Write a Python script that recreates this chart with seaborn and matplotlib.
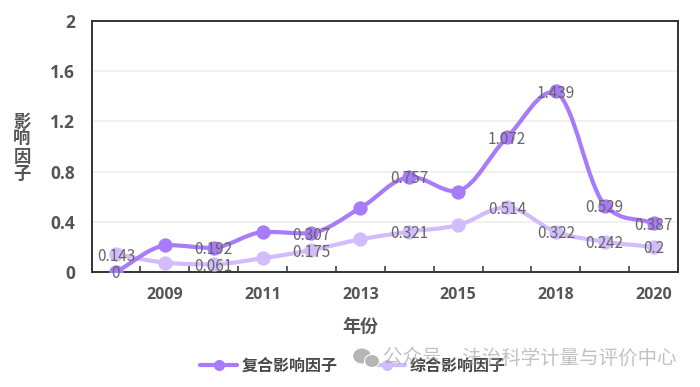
import numpy as np
import seaborn as sns
import matplotlib.pyplot as plt
from matplotlib.lines import Line2D
from matplotlib.patches import Ellipse, PathPatch
from matplotlib.path import Path

years = ["2008", "2009", "2010", "2011", "2012", "2013", "2014", "2015", "2016", "2018", "2019", "2020"]
composite = [0, 0.215, 0.192, 0.32, 0.307, 0.51, 0.757, 0.64, 1.072, 1.439, 0.529, 0.387]
overall = [0.143, 0.075, 0.061, 0.11, 0.175, 0.26, 0.321, 0.375, 0.514, 0.322, 0.242, 0.2]
composite_labels = ["0", "", "0.192", "", "0.307", "", "0.757", "", "1.072", "1.439", "0.529", "0.387"]
overall_labels = ["0.143", "", "0.061", "", "0.175", "", "0.321", "", "0.514", "0.322", "0.242", "0.2"]
year_ticks = ["2009", "2011", "2013", "2015", "2018", "2020"]
y_ticks = [0, 0.4, 0.8, 1.2, 1.6, 2]
y_tick_labels = ["0", "0.4", "0.8", "1.2", "1.6", "2"]

DARK = "#a87bfb"
LIGHT = "#d2bcfc"
TEXT = "#555555"


def smooth_path(y_values):
    # bezier through the points, control points kept inside each segment's y range
    y = np.asarray(y_values, dtype=float)
    slopes = np.gradient(y)
    verts = [(0, y[0])]
    codes = [Path.MOVETO]
    for i in range(len(y) - 1):
        low, high = sorted((y[i], y[i + 1]))
        verts.append((i + 0.4, np.clip(y[i] + 0.4 * slopes[i], low, high)))
        verts.append((i + 0.6, np.clip(y[i + 1] - 0.4 * slopes[i + 1], low, high)))
        verts.append((i + 1, y[i + 1]))
        codes += [Path.CURVE4, Path.CURVE4, Path.CURVE4]
    return Path(verts, codes)


def draw_series(ax, values, labels, color):
    sns.lineplot(x=years, y=values, ax=ax, color=color, linewidth=0, marker="o",
                 markersize=10.3, markeredgewidth=0, zorder=3)
    ax.add_patch(PathPatch(smooth_path(values), fill=False, edgecolor=color, lw=3, capstyle="round", zorder=3))
    for i, label in enumerate(labels):
        ax.text(i, values[i], label, ha="center", va="center_baseline", fontsize=11, color="#666666",
                family=['Noto Sans CJK SC', 'DejaVu Sans'], zorder=5)


if __name__ == '__main__':
    sns.set_theme(style="white")
    plt.rcParams['font.family'] = ['Open Sans', 'Noto Sans CJK SC', 'DejaVu Sans']

    fig = plt.figure(figsize=(7, 3.87), dpi=100)
    ax = fig.add_axes([91.5 / 700, 1 - 272 / 387, 586.5 / 700, 251 / 387])

    draw_series(ax, overall, overall_labels, LIGHT)
    draw_series(ax, composite, composite_labels, DARK)

    ax.set_xlim(-0.5, 11.5)
    ax.set_ylim(0, 2)
    ax.set_yticks(y_ticks)
    ax.set_yticklabels(y_tick_labels, fontsize=12.5, fontweight="bold", color=TEXT)
    ax.set_xticks([years.index(y) for y in year_ticks])
    ax.set_xticklabels(year_ticks, fontsize=11.5, fontweight="bold", color=TEXT)
    ax.set_xticks(np.arange(0.5, 11, 1), minor=True)
    ax.tick_params(axis="x", which="major", length=0, pad=10.5)
    ax.tick_params(axis="x", which="minor", direction="in", length=4, width=1.1, color="#333333", bottom=True)
    ax.tick_params(axis="y", length=0, pad=12)
    ax.grid(axis="y", color="#eeeeee", lw=1.2)
    ax.set_axisbelow(True)
    for spine in ax.spines.values():
        spine.set_color("#333333")
        spine.set_linewidth(1.4)

    fig.text(22 / 700, 1 - 148 / 387, "影\n响\n因\n子", ha="center", va="center", fontsize=12.5,
             fontweight="bold", color=TEXT, linespacing=0.95)
    fig.text(360 / 700, 1 - 327 / 387, "年份", ha="center", va="center", fontsize=13,
             fontweight="bold", color=TEXT)

    handles = [
        Line2D([], [], color=DARK, lw=3, marker="o", markersize=8, markeredgewidth=0),
        Line2D([], [], color=LIGHT, lw=3, marker="o", markersize=8, markeredgewidth=0),
    ]
    fig.legend(handles, ["复合影响因子", "综合影响因子"], ncol=2, loc="center", bbox_to_anchor=(353 / 700, 1 - 366.5 / 387),
               frameon=False, handlelength=2.3, handletextpad=0.3, columnspacing=1.9,
               prop={"size": 11.5, "weight": "bold"}, labelcolor="#484848")

    # watermark in the bottom right corner
    fig.text(383 / 700, 1 - 358 / 387, "公众号", ha="left", va="center", fontsize=14,
             color="#999999", alpha=0.6, zorder=10)
    fig.text(677 / 700, 1 - 358 / 387, "· 法治科学计量与评价中心", ha="right", va="center", fontsize=14,
             color="#999999", alpha=0.6, zorder=10)
    for cx, cy, w, h in [(362, 356, 19, 16), (372, 361, 15, 13)]:
        fig.add_artist(Ellipse((cx / 700, 1 - cy / 387), w / 700, h / 387, transform=fig.transFigure,
                               facecolor="#b5b5b5", edgecolor="white", lw=0.8, zorder=10))

    fig.savefig("out.png", dpi=100)
